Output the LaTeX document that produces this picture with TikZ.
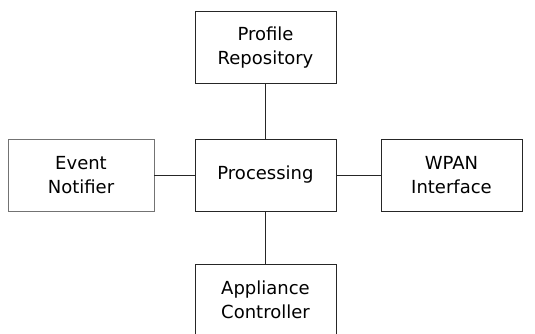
\documentclass[tikz,border=0pt]{standalone}
\usepackage{fontspec}
\setmainfont{DejaVu Sans}
\begin{document}
\begin{tikzpicture}[x=1pt,y=-1pt,
  blk/.style={draw=black!85, line width=0.9pt, minimum width=141pt, minimum height=72pt,
    inner sep=0pt, align=center, font=\fontsize{18}{24}\selectfont},
  conn/.style={draw=black!85, line width=0.9pt}]
\useasboundingbox (0,0) rectangle (535,333);
\begin{scope}
\clip (0,0) rectangle (535,333);
\node[blk] (prof) at (265.5,47.5) {Profile\\Repository};
\node[blk] (proc) at (265.5,175) {Processing};
\node[blk, draw=black!55, minimum width=146pt] (event) at (81,175) {Event\\Notifier};
\node[blk] (wpan) at (451.5,175) {WPAN\\Interface};
\node[blk] (appl) at (265.5,300) {Appliance\\Controller};
\draw[conn] (prof) -- (proc);
\draw[conn] (proc) -- (appl);
\draw[conn] (event) -- (proc);
\draw[conn] (proc) -- (wpan);
\end{scope}
\end{tikzpicture}
\end{document}
